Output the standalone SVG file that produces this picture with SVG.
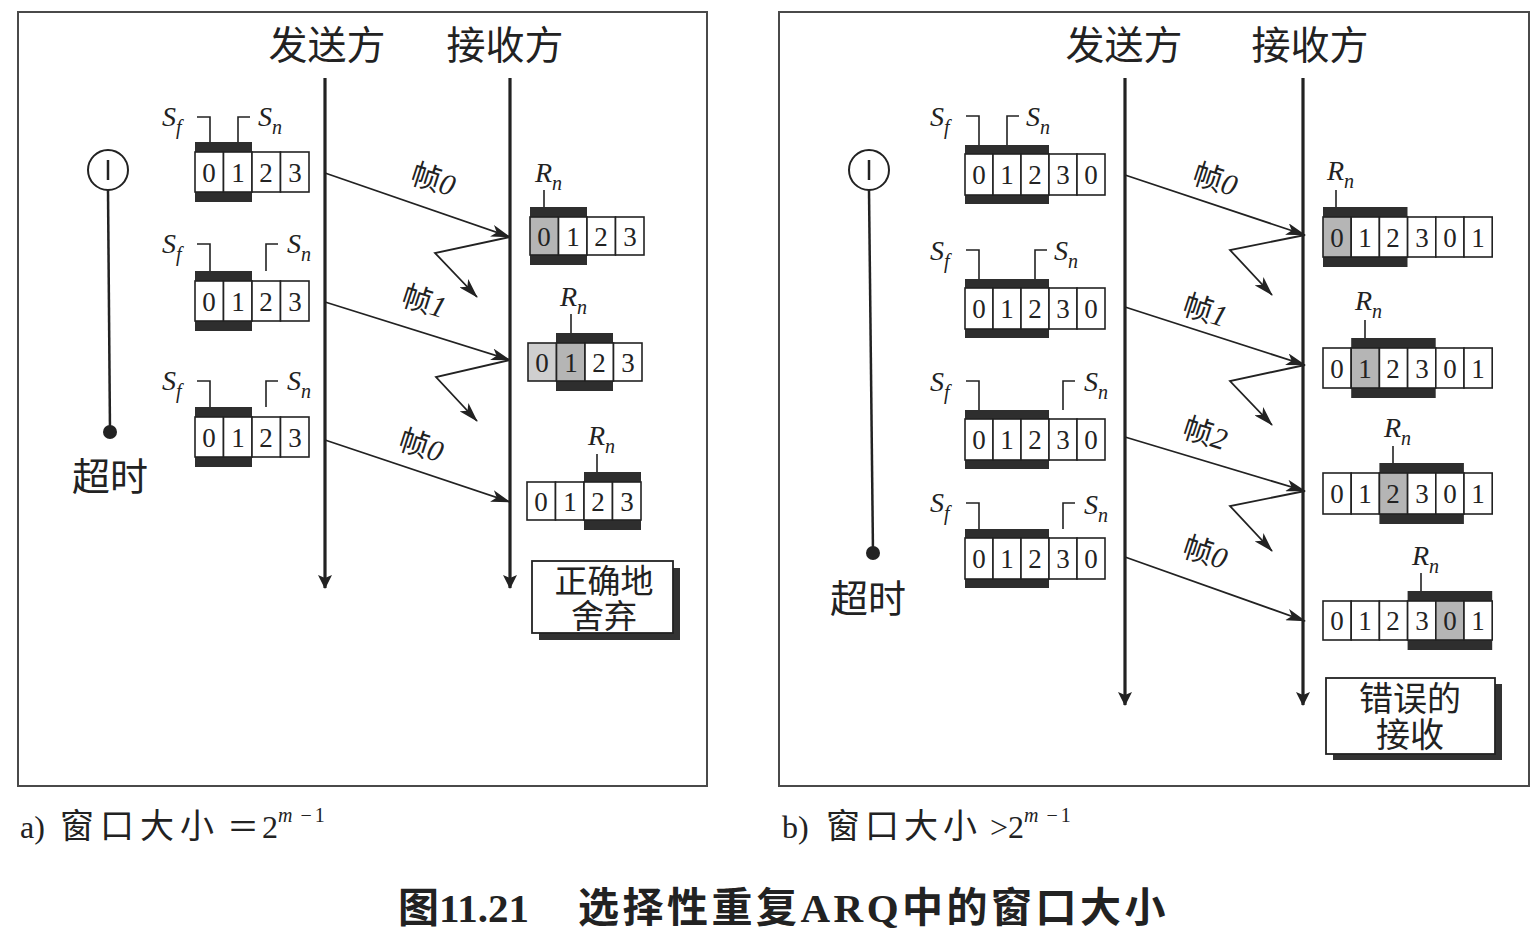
<svg xmlns="http://www.w3.org/2000/svg" width="1536" height="933" viewBox="0 0 1536 933">
<style>
.frame{fill:none;stroke:#4a4a4a;stroke-width:2}
.cjk{font-family:"Noto Sans CJK SC",sans-serif;fill:#222}
.hd{font-size:39px}
.cell{fill:#fff;stroke:#222;stroke-width:1.6}
.sh{fill:#b5b5b5;stroke:#222;stroke-width:1.6}
.bar{fill:#2e2e2e}
.dg{font-family:"Liberation Serif",serif;font-size:27px;fill:#222;text-anchor:middle}
.it{font-family:"Liberation Serif",serif;font-style:italic;fill:#222}
.tl{stroke:#222;stroke-width:3.2;fill:none}
.ln{stroke:#222;stroke-width:1.6;fill:none}
.ar{stroke:#222;stroke-width:1.8;fill:none}
.lbl{font-family:"Noto Sans CJK SC",sans-serif;font-size:30px;fill:#222}
.cap{font-family:"Liberation Serif","Noto Sans CJK SC",serif;fill:#222}
</style>
<defs>
<marker id="ah" markerWidth="20" markerHeight="12" refX="19" refY="6" orient="auto" markerUnits="userSpaceOnUse"><path d="M0,0 L20,6 L0,12 L5,6 z" fill="#222"/></marker>
<marker id="tah" markerWidth="14" markerHeight="22" refX="13" refY="7" orient="auto" markerUnits="userSpaceOnUse"><path d="M0,0 L14,7 L0,14 L3,7 z" fill="#222"/></marker>
</defs>
<rect width="1536" height="933" fill="#fff"/>
<rect class="frame" x="18" y="12" width="689" height="774"/>
<rect class="frame" x="779" y="12" width="750" height="774"/>

<!-- headers -->
<g id="hdr-a">
<text class="cjk hd" x="327" y="59" text-anchor="middle">发送方</text>
<text class="cjk hd" x="505" y="59" text-anchor="middle">接收方</text>
</g>
<g id="hdr-b">
<text class="cjk hd" x="1124" y="59" text-anchor="middle">发送方</text>
<text class="cjk hd" x="1310" y="59" text-anchor="middle">接收方</text>
</g>

<!-- timelines -->
<g id="timelines">
<line class="tl" x1="325" y1="78" x2="325" y2="588" marker-end="url(#tah)"/>
<line class="tl" x1="510" y1="78" x2="510" y2="588" marker-end="url(#tah)"/>
<line class="tl" x1="1125" y1="78" x2="1125" y2="705" marker-end="url(#tah)"/>
<line class="tl" x1="1303" y1="78" x2="1303" y2="705" marker-end="url(#tah)"/>
</g>

<!-- timers -->
<g id="timer-a">
<circle cx="108" cy="170" r="20" fill="#fff" stroke="#222" stroke-width="2"/>
<line x1="108" y1="160" x2="108" y2="180" stroke="#222" stroke-width="2.5"/>
<line x1="108" y1="190" x2="110" y2="432" stroke="#222" stroke-width="2.5"/>
<circle cx="110" cy="432" r="7" fill="#222"/>
<text class="cjk" font-size="38" x="110" y="490" text-anchor="middle">超时</text>
</g>
<g id="timer-b">
<circle cx="869" cy="170" r="20" fill="#fff" stroke="#222" stroke-width="2"/>
<line x1="869" y1="160" x2="869" y2="180" stroke="#222" stroke-width="2.5"/>
<line x1="869" y1="190" x2="873" y2="553" stroke="#222" stroke-width="2.5"/>
<circle cx="873" cy="553" r="7" fill="#222"/>
<text class="cjk" font-size="38" x="868" y="612" text-anchor="middle">超时</text>
</g>

<!-- left sender windows -->
<g id="a-s1">
<rect class="bar" x="195" y="142" width="57" height="10"/><rect class="bar" x="195" y="192" width="57" height="10"/>
<rect class="cell" x="195" y="152" width="28.5" height="40"/><rect class="cell" x="223.5" y="152" width="28.5" height="40"/><rect class="cell" x="252" y="152" width="28.5" height="40"/><rect class="cell" x="280.5" y="152" width="28.5" height="40"/>
<text class="dg" x="209" y="182">0</text><text class="dg" x="238" y="182">1</text><text class="dg" x="266" y="182">2</text><text class="dg" x="295" y="182">3</text>
<path class="ln" d="M197,117 H210 V142 M238,142 V117 H250"/>
<text class="it" x="162" y="126" font-size="28">S<tspan font-size="20" dy="8">f</tspan></text>
<text class="it" x="258" y="126" font-size="28">S<tspan font-size="20" dy="8">n</tspan></text>
</g>
<g id="a-s2">
<rect class="bar" x="195" y="271" width="57" height="10"/><rect class="bar" x="195" y="321" width="57" height="10"/>
<rect class="cell" x="195" y="281" width="28.5" height="40"/><rect class="cell" x="223.5" y="281" width="28.5" height="40"/><rect class="cell" x="252" y="281" width="28.5" height="40"/><rect class="cell" x="280.5" y="281" width="28.5" height="40"/>
<text class="dg" x="209" y="311">0</text><text class="dg" x="238" y="311">1</text><text class="dg" x="266" y="311">2</text><text class="dg" x="295" y="311">3</text>
<path class="ln" d="M197,244 H210 V271 M266,271 V244 H278"/>
<text class="it" x="162" y="253" font-size="28">S<tspan font-size="20" dy="8">f</tspan></text>
<text class="it" x="287" y="253" font-size="28">S<tspan font-size="20" dy="8">n</tspan></text>
</g>
<g id="a-s3">
<rect class="bar" x="195" y="407" width="57" height="10"/><rect class="bar" x="195" y="457" width="57" height="10"/>
<rect class="cell" x="195" y="417" width="28.5" height="40"/><rect class="cell" x="223.5" y="417" width="28.5" height="40"/><rect class="cell" x="252" y="417" width="28.5" height="40"/><rect class="cell" x="280.5" y="417" width="28.5" height="40"/>
<text class="dg" x="209" y="447">0</text><text class="dg" x="238" y="447">1</text><text class="dg" x="266" y="447">2</text><text class="dg" x="295" y="447">3</text>
<path class="ln" d="M197,381 H210 V407 M266,407 V381 H278"/>
<text class="it" x="162" y="390" font-size="28">S<tspan font-size="20" dy="8">f</tspan></text>
<text class="it" x="287" y="390" font-size="28">S<tspan font-size="20" dy="8">n</tspan></text>
</g>

<!-- left receiver windows -->
<g id="a-r1">
<rect class="bar" x="530" y="207" width="57" height="10"/><rect class="bar" x="530" y="255" width="57" height="10"/>
<rect class="sh" x="530" y="217" width="28.5" height="38"/><rect class="cell" x="558.5" y="217" width="28.5" height="38"/><rect class="cell" x="587" y="217" width="28.5" height="38"/><rect class="cell" x="615.5" y="217" width="28.5" height="38"/>
<text class="dg" x="544" y="246">0</text><text class="dg" x="573" y="246">1</text><text class="dg" x="601" y="246">2</text><text class="dg" x="630" y="246">3</text>
<line class="ln" x1="544" y1="190" x2="544" y2="207"/>
<text class="it" x="535" y="182" font-size="28">R<tspan font-size="20" dy="8">n</tspan></text>
</g>
<g id="a-r2">
<rect class="bar" x="556" y="333" width="57" height="10"/><rect class="bar" x="556" y="381" width="57" height="10"/>
<rect class="sh" x="528" y="343" width="28.5" height="38" style="fill:#cfcfcf"/><rect class="sh" x="556.5" y="343" width="28.5" height="38"/><rect class="cell" x="585" y="343" width="28.5" height="38"/><rect class="cell" x="613.5" y="343" width="28.5" height="38"/>
<text class="dg" x="542" y="372">0</text><text class="dg" x="571" y="372">1</text><text class="dg" x="599" y="372">2</text><text class="dg" x="628" y="372">3</text>
<line class="ln" x1="571" y1="314" x2="571" y2="333"/>
<text class="it" x="560" y="306" font-size="28">R<tspan font-size="20" dy="8">n</tspan></text>
</g>
<g id="a-r3">
<rect class="bar" x="584" y="472" width="57" height="10"/><rect class="bar" x="584" y="520" width="57" height="10"/>
<rect class="cell" x="527" y="482" width="28.5" height="38"/><rect class="cell" x="555.5" y="482" width="28.5" height="38"/><rect class="cell" x="584" y="482" width="28.5" height="38"/><rect class="cell" x="612.5" y="482" width="28.5" height="38"/>
<text class="dg" x="541" y="511">0</text><text class="dg" x="570" y="511">1</text><text class="dg" x="598" y="511">2</text><text class="dg" x="627" y="511">3</text>
<line class="ln" x1="597" y1="454" x2="597" y2="472"/>
<text class="it" x="588" y="445" font-size="28">R<tspan font-size="20" dy="8">n</tspan></text>
</g>
<g id="a-note">
<rect x="539" y="568" width="141" height="72" fill="#333"/>
<rect x="532" y="561" width="141" height="72" fill="#fff" stroke="#222" stroke-width="1.8"/>
<text class="cjk" font-size="33" x="604" y="593" text-anchor="middle">正确地</text>
<text class="cjk" font-size="33" x="604" y="628" text-anchor="middle">舍弃</text>
</g>

<!-- right sender windows -->
<g id="b-s1">
<rect class="bar" x="965" y="145" width="84" height="9"/><rect class="bar" x="965" y="195" width="84" height="9"/>
<rect class="cell" x="965" y="154" width="28" height="41"/><rect class="cell" x="993" y="154" width="28" height="41"/><rect class="cell" x="1021" y="154" width="28" height="41"/><rect class="cell" x="1049" y="154" width="28" height="41"/><rect class="cell" x="1077" y="154" width="28" height="41"/>
<text class="dg" x="979" y="184">0</text><text class="dg" x="1007" y="184">1</text><text class="dg" x="1035" y="184">2</text><text class="dg" x="1063" y="184">3</text><text class="dg" x="1091" y="184">0</text>
<path class="ln" d="M966,116 H979 V145 M1007,145 V116 H1019"/>
<text class="it" x="930" y="126" font-size="28">S<tspan font-size="20" dy="8">f</tspan></text>
<text class="it" x="1026" y="126" font-size="28">S<tspan font-size="20" dy="8">n</tspan></text>
</g>
<g id="b-s2">
<rect class="bar" x="965" y="279" width="84" height="9"/><rect class="bar" x="965" y="329" width="84" height="9"/>
<rect class="cell" x="965" y="288" width="28" height="41"/><rect class="cell" x="993" y="288" width="28" height="41"/><rect class="cell" x="1021" y="288" width="28" height="41"/><rect class="cell" x="1049" y="288" width="28" height="41"/><rect class="cell" x="1077" y="288" width="28" height="41"/>
<text class="dg" x="979" y="318">0</text><text class="dg" x="1007" y="318">1</text><text class="dg" x="1035" y="318">2</text><text class="dg" x="1063" y="318">3</text><text class="dg" x="1091" y="318">0</text>
<path class="ln" d="M966,250 H979 V279 M1035,279 V250 H1047"/>
<text class="it" x="930" y="260" font-size="28">S<tspan font-size="20" dy="8">f</tspan></text>
<text class="it" x="1054" y="260" font-size="28">S<tspan font-size="20" dy="8">n</tspan></text>
</g>
<g id="b-s3">
<rect class="bar" x="965" y="410" width="84" height="9"/><rect class="bar" x="965" y="460" width="84" height="9"/>
<rect class="cell" x="965" y="419" width="28" height="41"/><rect class="cell" x="993" y="419" width="28" height="41"/><rect class="cell" x="1021" y="419" width="28" height="41"/><rect class="cell" x="1049" y="419" width="28" height="41"/><rect class="cell" x="1077" y="419" width="28" height="41"/>
<text class="dg" x="979" y="449">0</text><text class="dg" x="1007" y="449">1</text><text class="dg" x="1035" y="449">2</text><text class="dg" x="1063" y="449">3</text><text class="dg" x="1091" y="449">0</text>
<path class="ln" d="M966,381 H979 V410 M1063,410 V381 H1075"/>
<text class="it" x="930" y="391" font-size="28">S<tspan font-size="20" dy="8">f</tspan></text>
<text class="it" x="1084" y="391" font-size="28">S<tspan font-size="20" dy="8">n</tspan></text>
</g>
<g id="b-s4">
<rect class="bar" x="965" y="529" width="84" height="9"/><rect class="bar" x="965" y="579" width="84" height="9"/>
<rect class="cell" x="965" y="538" width="28" height="41"/><rect class="cell" x="993" y="538" width="28" height="41"/><rect class="cell" x="1021" y="538" width="28" height="41"/><rect class="cell" x="1049" y="538" width="28" height="41"/><rect class="cell" x="1077" y="538" width="28" height="41"/>
<text class="dg" x="979" y="568">0</text><text class="dg" x="1007" y="568">1</text><text class="dg" x="1035" y="568">2</text><text class="dg" x="1063" y="568">3</text><text class="dg" x="1091" y="568">0</text>
<path class="ln" d="M966,503 H979 V529 M1063,529 V503 H1075"/>
<text class="it" x="930" y="512" font-size="28">S<tspan font-size="20" dy="8">f</tspan></text>
<text class="it" x="1084" y="514" font-size="28">S<tspan font-size="20" dy="8">n</tspan></text>
</g>

<!-- right receiver windows -->
<g id="b-r1">
<rect class="bar" x="1323" y="207" width="84.5" height="10"/><rect class="bar" x="1323" y="257" width="84.5" height="10"/>
<rect class="sh" x="1323" y="217" width="28.2" height="40"/><rect class="cell" x="1351.2" y="217" width="28.2" height="40"/><rect class="cell" x="1379.4" y="217" width="28.2" height="40"/><rect class="cell" x="1407.6" y="217" width="28.2" height="40"/><rect class="cell" x="1435.8" y="217" width="28.2" height="40"/><rect class="cell" x="1464" y="217" width="28.2" height="40"/>
<text class="dg" x="1337" y="247">0</text><text class="dg" x="1365" y="247">1</text><text class="dg" x="1393" y="247">2</text><text class="dg" x="1422" y="247">3</text><text class="dg" x="1450" y="247">0</text><text class="dg" x="1478" y="247">1</text>
<line class="ln" x1="1336" y1="190" x2="1336" y2="207"/>
<text class="it" x="1327" y="180" font-size="28">R<tspan font-size="20" dy="8">n</tspan></text>
</g>
<g id="b-r2">
<rect class="bar" x="1351.2" y="338" width="84.5" height="10"/><rect class="bar" x="1351.2" y="388" width="84.5" height="10"/>
<rect class="cell" x="1323" y="348" width="28.2" height="40"/><rect class="sh" x="1351.2" y="348" width="28.2" height="40"/><rect class="cell" x="1379.4" y="348" width="28.2" height="40"/><rect class="cell" x="1407.6" y="348" width="28.2" height="40"/><rect class="cell" x="1435.8" y="348" width="28.2" height="40"/><rect class="cell" x="1464" y="348" width="28.2" height="40"/>
<text class="dg" x="1337" y="378">0</text><text class="dg" x="1365" y="378">1</text><text class="dg" x="1393" y="378">2</text><text class="dg" x="1422" y="378">3</text><text class="dg" x="1450" y="378">0</text><text class="dg" x="1478" y="378">1</text>
<line class="ln" x1="1365" y1="320" x2="1365" y2="338"/>
<text class="it" x="1355" y="310" font-size="28">R<tspan font-size="20" dy="8">n</tspan></text>
</g>
<g id="b-r3">
<rect class="bar" x="1379.4" y="463" width="84.5" height="10"/><rect class="bar" x="1379.4" y="514" width="84.5" height="10"/>
<rect class="cell" x="1323" y="473" width="28.2" height="41"/><rect class="cell" x="1351.2" y="473" width="28.2" height="41"/><rect class="sh" x="1379.4" y="473" width="28.2" height="41"/><rect class="cell" x="1407.6" y="473" width="28.2" height="41"/><rect class="cell" x="1435.8" y="473" width="28.2" height="41"/><rect class="cell" x="1464" y="473" width="28.2" height="41"/>
<text class="dg" x="1337" y="503">0</text><text class="dg" x="1365" y="503">1</text><text class="dg" x="1393" y="503">2</text><text class="dg" x="1422" y="503">3</text><text class="dg" x="1450" y="503">0</text><text class="dg" x="1478" y="503">1</text>
<line class="ln" x1="1393" y1="446" x2="1393" y2="463"/>
<text class="it" x="1384" y="437" font-size="28">R<tspan font-size="20" dy="8">n</tspan></text>
</g>
<g id="b-r4">
<rect class="bar" x="1407.6" y="591" width="84.6" height="10"/><rect class="bar" x="1407.6" y="640" width="84.6" height="10"/>
<rect class="cell" x="1323" y="601" width="28.2" height="39"/><rect class="cell" x="1351.2" y="601" width="28.2" height="39"/><rect class="cell" x="1379.4" y="601" width="28.2" height="39"/><rect class="cell" x="1407.6" y="601" width="28.2" height="39"/><rect class="sh" x="1435.8" y="601" width="28.2" height="39"/><rect class="cell" x="1464" y="601" width="28.2" height="39"/>
<text class="dg" x="1337" y="630">0</text><text class="dg" x="1365" y="630">1</text><text class="dg" x="1393" y="630">2</text><text class="dg" x="1422" y="630">3</text><text class="dg" x="1450" y="630">0</text><text class="dg" x="1478" y="630">1</text>
<line class="ln" x1="1421" y1="573" x2="1421" y2="591"/>
<text class="it" x="1412" y="565" font-size="28">R<tspan font-size="20" dy="8">n</tspan></text>
</g>
<g id="b-note">
<rect x="1333" y="684" width="169" height="76" fill="#333"/>
<rect x="1326" y="678" width="169" height="76" fill="#fff" stroke="#222" stroke-width="1.8"/>
<text class="cjk" font-size="34" x="1410" y="711" text-anchor="middle">错误的</text>
<text class="cjk" font-size="34" x="1410" y="747" text-anchor="middle">接收</text>
</g>

<!-- connectors -->
<g id="connectors">
<line class="ar" x1="325" y1="173" x2="510" y2="237" marker-end="url(#ah)"/>
<polyline class="ar" points="510,237 435,253 477,297" marker-end="url(#ah)"/>
<line class="ar" x1="325" y1="302" x2="510" y2="360" marker-end="url(#ah)"/>
<polyline class="ar" points="510,360 436,377 477,421" marker-end="url(#ah)"/>
<line class="ar" x1="325" y1="440" x2="510" y2="502" marker-end="url(#ah)"/>

<line class="ar" x1="1125" y1="175" x2="1305" y2="235" marker-end="url(#ah)"/>
<polyline class="ar" points="1305,235 1230,250 1272,295" marker-end="url(#ah)"/>
<line class="ar" x1="1125" y1="307" x2="1305" y2="365" marker-end="url(#ah)"/>
<polyline class="ar" points="1305,365 1230,381 1272,425" marker-end="url(#ah)"/>
<line class="ar" x1="1125" y1="437" x2="1305" y2="491" marker-end="url(#ah)"/>
<polyline class="ar" points="1305,491 1230,506 1272,551" marker-end="url(#ah)"/>
<line class="ar" x1="1125" y1="557" x2="1305" y2="621" marker-end="url(#ah)"/>
</g>
<g id="labels">
<text class="lbl" transform="translate(433,180) rotate(18)" text-anchor="middle" dy="10">帧<tspan font-family="Liberation Serif" font-style="italic">0</tspan></text>
<text class="lbl" transform="translate(424,302) rotate(18)" text-anchor="middle" dy="10">帧<tspan font-family="Liberation Serif" font-style="italic">1</tspan></text>
<text class="lbl" transform="translate(421,446) rotate(18)" text-anchor="middle" dy="10">帧<tspan font-family="Liberation Serif" font-style="italic">0</tspan></text>
<text class="lbl" transform="translate(1215,180) rotate(18)" text-anchor="middle" dy="10">帧<tspan font-family="Liberation Serif" font-style="italic">0</tspan></text>
<text class="lbl" transform="translate(1205,311) rotate(18)" text-anchor="middle" dy="10">帧<tspan font-family="Liberation Serif" font-style="italic">1</tspan></text>
<text class="lbl" transform="translate(1205,434) rotate(18)" text-anchor="middle" dy="10">帧<tspan font-family="Liberation Serif" font-style="italic">2</tspan></text>
<text class="lbl" transform="translate(1205,553) rotate(18)" text-anchor="middle" dy="10">帧<tspan font-family="Liberation Serif" font-style="italic">0</tspan></text>
</g>

<!-- captions -->
<text class="cap" x="20" y="838" font-size="32">a)<tspan x="60" font-size="34" letter-spacing="6">窗口大小</tspan><tspan x="227" font-size="32">＝</tspan><tspan x="262" font-size="32">2</tspan><tspan font-size="20" dy="-16" font-style="italic">m</tspan><tspan font-size="20" letter-spacing="3"> −1</tspan></text>
<text class="cap" x="782" y="838" font-size="32">b)<tspan x="826" font-size="34" letter-spacing="5">窗口大小</tspan><tspan x="990" font-size="32">&gt;</tspan><tspan x="1008" font-size="32">2</tspan><tspan font-size="20" dy="-16" font-style="italic">m</tspan><tspan font-size="20" letter-spacing="3"> −1</tspan></text>
<text class="cap" x="398" y="922" font-size="41" font-weight="bold">图11.21<tspan x="578" letter-spacing="3.5">选择性重复ARQ中的窗口大小</tspan></text>
</svg>
